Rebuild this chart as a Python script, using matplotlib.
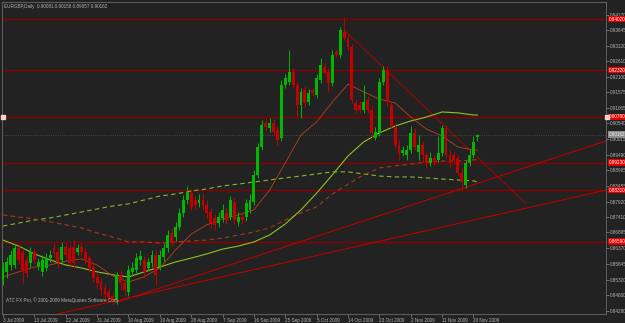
import matplotlib.pyplot as plt
from matplotlib.transforms import blended_transform_factory

# EURGBP daily candles, 3 Jul 2009 .. 23 Nov 2009 (MT4 chart, Sunday bars included)
opens = [0.8531, 0.8558, 0.8581, 0.8581, 0.8638, 0.8624, 0.8598, 0.8588, 0.8624, 0.8578,
         0.8558, 0.8571, 0.8604, 0.8638, 0.8624, 0.8598, 0.8641, 0.8638, 0.8641, 0.8624,
         0.8641, 0.8624, 0.8604, 0.8574, 0.8541, 0.8524, 0.8504, 0.8491, 0.8477, 0.8464,
         0.8548, 0.8521, 0.8491, 0.8558, 0.8564, 0.8598, 0.8598, 0.8571, 0.8588, 0.8614,
         0.8574, 0.8608, 0.8638, 0.8688, 0.8674, 0.8708, 0.8755, 0.8798, 0.8821, 0.8798,
         0.8788, 0.8798, 0.8781, 0.8758, 0.8738, 0.8721, 0.8738, 0.8755, 0.8741, 0.8791,
         0.8725, 0.8741, 0.8741, 0.8765, 0.8791, 0.8882, 0.8975, 0.9055, 0.9038, 0.9055,
         0.9032, 0.9005, 0.9182, 0.9192, 0.9226, 0.9182, 0.9115, 0.9165, 0.9125, 0.9165,
         0.9149, 0.9199, 0.9242, 0.9226, 0.9189, 0.9292, 0.9282, 0.9359, 0.9339, 0.9309,
         0.9122, 0.9115, 0.9099, 0.9132, 0.9099, 0.9005, 0.9022, 0.9192, 0.9232, 0.9115,
         0.9042, 0.8982, 0.8955, 0.8948, 0.8965, 0.9022, 0.8958, 0.8982, 0.8948, 0.8922,
         0.8938, 0.8932, 0.8955, 0.9038, 0.8948, 0.8948, 0.8938, 0.8888, 0.8848, 0.8922,
         0.8948, 0.90081]
highs = [0.8591, 0.8608, 0.8631, 0.8651, 0.8651, 0.8638, 0.8611, 0.8641, 0.8638, 0.8604,
         0.8614, 0.8621, 0.8631, 0.8654, 0.8638, 0.8658, 0.8654, 0.8651, 0.8664, 0.8651,
         0.8654, 0.8638, 0.8614, 0.8591, 0.8554, 0.8538, 0.8517, 0.8504, 0.8491, 0.8558,
         0.8564, 0.8534, 0.8581, 0.8591, 0.8621, 0.8631, 0.8611, 0.8604, 0.8631, 0.8631,
         0.8631, 0.8654, 0.8698, 0.8705, 0.8725, 0.8771, 0.8815, 0.8845, 0.8835, 0.8811,
         0.8818, 0.8821, 0.8798, 0.8771, 0.8751, 0.8758, 0.8785, 0.8771, 0.8811, 0.8805,
         0.8758, 0.8755, 0.8801, 0.8818, 0.8898, 0.8988, 0.9065, 0.9072, 0.9072, 0.9069,
         0.9045, 0.9199, 0.9219, 0.9299, 0.9239, 0.9192, 0.9172, 0.9179, 0.9169, 0.9175,
         0.9219, 0.9272, 0.9256, 0.9239, 0.9299, 0.9302, 0.9376, 0.9409, 0.9349, 0.9319,
         0.9135, 0.9129, 0.9182, 0.9145, 0.9112, 0.9042, 0.9206, 0.9246, 0.9246, 0.9125,
         0.9055, 0.8998, 0.8978, 0.8982, 0.9045, 0.9038, 0.9015, 0.8995, 0.8958, 0.8958,
         0.8948, 0.9012, 0.9049, 0.9049, 0.8965, 0.8958, 0.8948, 0.8905, 0.8932, 0.8965,
         0.9012, 0.90170]
lows = [0.8514, 0.8538, 0.8564, 0.8571, 0.8584, 0.8521, 0.8541, 0.8574, 0.8584, 0.8564,
        0.8544, 0.8561, 0.8591, 0.8608, 0.8571, 0.8584, 0.8601, 0.8574, 0.8571, 0.8614,
        0.8611, 0.8584, 0.8558, 0.8524, 0.8504, 0.8481, 0.8464, 0.8457, 0.8447, 0.8451,
        0.8497, 0.8477, 0.8477, 0.8544, 0.8554, 0.8581, 0.8538, 0.8561, 0.8574, 0.8514,
        0.8564, 0.8594, 0.8624, 0.8644, 0.8661, 0.8698, 0.8741, 0.8785, 0.8765, 0.8768,
        0.8775, 0.8765, 0.8738, 0.8705, 0.8698, 0.8708, 0.8725, 0.8718, 0.8731, 0.8718,
        0.8711, 0.8718, 0.8728, 0.8755, 0.8781, 0.8872, 0.8965, 0.9028, 0.9025, 0.9012,
        0.8982, 0.8995, 0.9172, 0.9182, 0.9172, 0.9075, 0.9072, 0.9109, 0.9115, 0.9145,
        0.9139, 0.9189, 0.9212, 0.9159, 0.9179, 0.9276, 0.9272, 0.9332, 0.9299, 0.9122,
        0.9089, 0.9089, 0.9089, 0.9089, 0.9005, 0.8998, 0.9012, 0.9182, 0.9112, 0.9038,
        0.8972, 0.8932, 0.8945, 0.8932, 0.8955, 0.8965, 0.8932, 0.8925, 0.8905, 0.8912,
        0.8915, 0.8925, 0.8945, 0.8938, 0.8908, 0.8918, 0.8878, 0.8831, 0.8838, 0.8912,
        0.8938, 0.89957]
closes = [0.8571, 0.8591, 0.8614, 0.8638, 0.8598, 0.8558, 0.8554, 0.8624, 0.8598, 0.8591,
          0.8598, 0.8604, 0.8614, 0.8621, 0.8591, 0.8641, 0.8614, 0.8588, 0.8588, 0.8638,
          0.8624, 0.8598, 0.8571, 0.8538, 0.8521, 0.8497, 0.8481, 0.8471, 0.8464, 0.8548,
          0.8521, 0.8497, 0.8564, 0.8571, 0.8604, 0.8611, 0.8558, 0.8591, 0.8614, 0.8548,
          0.8614, 0.8638, 0.8681, 0.8658, 0.8708, 0.8755, 0.8798, 0.8825, 0.8775, 0.8781,
          0.8798, 0.8781, 0.8755, 0.8721, 0.8715, 0.8741, 0.8765, 0.8731, 0.8798, 0.8731,
          0.8741, 0.8731, 0.8788, 0.8798, 0.8882, 0.8975, 0.9049, 0.9042, 0.9055, 0.9025,
          0.8998, 0.9182, 0.9206, 0.9226, 0.9182, 0.9115, 0.9159, 0.9122, 0.9155, 0.9155,
          0.9206, 0.9249, 0.9222, 0.9189, 0.9282, 0.9282, 0.9366, 0.9339, 0.9309, 0.9132,
          0.9099, 0.9099, 0.9125, 0.9099, 0.9022, 0.9025, 0.9192, 0.9232, 0.9125, 0.9049,
          0.8982, 0.8955, 0.8965, 0.8965, 0.9022, 0.8975, 0.8982, 0.8948, 0.8925, 0.8938,
          0.8925, 0.8955, 0.9038, 0.8948, 0.8922, 0.8932, 0.8888, 0.8858, 0.8922, 0.8948,
          0.8992, 0.90162]

# moving averages every 4 bars
ma_bars = [0, 4, 8, 12, 16, 20, 24, 28, 32, 36, 40, 44, 48, 52, 56, 60,
           64, 68, 72, 76, 80, 84, 88, 92, 96, 100, 104, 108, 112, 116, 120, 121]
ma_fast = [0.8541, 0.8558, 0.8574, 0.8581, 0.8594, 0.8601, 0.8581, 0.8544, 0.8524, 0.8541,
           0.8571, 0.8631, 0.8684, 0.8715, 0.8735, 0.8748, 0.8765, 0.8831, 0.8922, 0.9015,
           0.9059, 0.9125, 0.9185, 0.9159, 0.9135, 0.9122, 0.9075, 0.9035, 0.9012, 0.8975,
           0.8965, 0.8965]
ma_mid = [0.8664, 0.8644, 0.8618, 0.8598, 0.8581, 0.8571, 0.8558, 0.8548, 0.8541, 0.8558,
          0.8574, 0.8591, 0.8604, 0.8618, 0.8634, 0.8644, 0.8658, 0.8681, 0.8718, 0.8765,
          0.8821, 0.8882, 0.8945, 0.8992, 0.9022, 0.9045, 0.9062, 0.9075, 0.9092, 0.9089,
          0.9082, 0.9082]
ma_slow_green = [0.8711, 0.8721, 0.8731, 0.8738, 0.8748, 0.8758, 0.8768, 0.8778, 0.8785, 0.8798,
                 0.8811, 0.8818, 0.8828, 0.8835, 0.8845, 0.8851, 0.8858, 0.8865, 0.8872, 0.8878,
                 0.8885, 0.8892, 0.8892, 0.8885, 0.8878, 0.8875, 0.8875, 0.8872, 0.8868, 0.8865,
                 0.8862, 0.8858]
ma_slow_red = [0.8748, 0.8741, 0.8735, 0.8725, 0.8715, 0.8705, 0.8688, 0.8674, 0.8658, 0.8658,
               0.8654, 0.8658, 0.8661, 0.8664, 0.8671, 0.8681, 0.8691, 0.8705, 0.8731, 0.8755,
               0.8775, 0.8818, 0.8851, 0.8882, 0.8905, 0.8912, 0.8918, 0.8925, 0.8928, 0.8928,
               0.8932, 0.8932]

# drawn objects: trend lines (bar, price anchors) and horizontal levels
trend_down = ([87, 133.2], [0.9366, 0.8788])
trend_up1 = ([29.1, 153.8], [0.8457, 0.8995])
trend_up2 = ([13.8, 153.8], [0.8417, 0.8831])
levels = [0.9402, 0.9232, 0.9076, 0.8923, 0.8831, 0.8659]
bid = 0.90162

ytick_labels = ['0.94170', '0.93645', '0.93120', '0.92610', '0.92100', '0.91575', '0.91065',
                '0.90540', '0.90015', '0.89490', '0.88965', '0.88455', '0.87920', '0.87410',
                '0.86895', '0.86370', '0.85845', '0.85320', '0.84800', '0.84280']
date_bars = [0, 8, 16, 24, 32, 40, 48, 56, 64, 72, 80, 88, 96, 104, 112, 120]
date_labels = ['3 Jul 2009', '13 Jul 2009', '22 Jul 2009', '31 Jul 2009', '10 Aug 2009',
               '19 Aug 2009', '28 Aug 2009', '7 Sep 2009', '16 Sep 2009', '25 Sep 2009',
               '5 Oct 2009', '14 Oct 2009', '23 Oct 2009', '2 Nov 2009', '11 Nov 2009',
               '20 Nov 2009']

BG = '#222222'
TXT = '#b4b4b4'
UP = '#00b800'
DOWN = '#c40000'
FS = 3.3
plt.rcParams['font.family'] = ['Liberation Sans', 'DejaVu Sans']


def chart():
    fig = plt.figure(figsize=(6.25, 3.23), dpi=100, facecolor=BG)
    ax = fig.add_axes([2 / 625, 9 / 323, 604 / 625, 312 / 323])
    ax.set_facecolor(BG)

    for lv in levels:
        ax.axhline(lv, color='#8a0000', lw=1.0, zorder=1)
    ax.axhline(bid, color='#555555', lw=0.6, ls=':', zorder=1)

    ax.plot(trend_down[0], trend_down[1], color='#b00000', lw=0.65, zorder=2)
    ax.plot(trend_up1[0], trend_up1[1], color='#c00000', lw=0.75, zorder=2)
    ax.plot(trend_up2[0], trend_up2[1], color='#c00000', lw=0.75, zorder=2)

    ax.plot(ma_bars, ma_slow_green, color='#8db32a', lw=0.8, ls=(0, (4, 3)), zorder=2)
    ax.plot(ma_bars, ma_slow_red, color='#a23a1c', lw=0.8, ls=(0, (4, 3)), zorder=2)
    ax.plot(ma_bars, ma_mid, color='#8fc21f', lw=0.8, zorder=2)
    ax.plot(ma_bars, ma_fast, color='#b8431a', lw=0.6, zorder=2)

    for i in range(len(closes)):
        o, h, l, c = opens[i], highs[i], lows[i], closes[i]
        col = UP if c >= o else DOWN
        ax.vlines(i, l, h, color=col, lw=0.7, zorder=3)
        ax.bar(i, max(abs(c - o), 0.00006), bottom=min(o, c), width=0.74,
               color=col, linewidth=0, zorder=3)

    ax.set_xlim(-0.26, 153.8)
    ax.set_ylim(0.84172, 0.94593)

    ax.yaxis.tick_right()
    ax.set_yticks([float(t) for t in ytick_labels], ytick_labels)
    ax.set_xticks(date_bars, date_labels, ha='left')
    ax.tick_params(axis='both', colors='#8a8a8a', labelcolor=TXT, labelsize=FS,
                   length=2, width=0.5, pad=1)
    for sp in ax.spines.values():
        sp.set_color('#6a6a6a')
        sp.set_linewidth(0.6)

    tr = blended_transform_factory(ax.transAxes, ax.transData)
    for lv in levels:
        ax.text(1.004, lv, f'{lv:.5f}', transform=tr, fontsize=FS, color='white',
                va='center', ha='left', clip_on=False, zorder=5,
                bbox=dict(boxstyle='square,pad=0.15', fc='#e00000', ec='none'))
    ax.text(1.004, bid, f'{bid:.5f}', transform=tr, fontsize=FS, color='#eeeeee',
            va='center', ha='left', clip_on=False, zorder=5,
            bbox=dict(boxstyle='square,pad=0.15', fc='#8c8c8c', ec='none'))
    ax.plot([0.002, 1.002], [levels[2], levels[2]], transform=tr, ls='none',
            marker='s', ms=2.2, color='#ffd0d0', clip_on=False, zorder=6)

    ax.text(0.003, 0.992, 'EURGBP,Daily  0.90081 0.90158 0.89957 0.90162',
            transform=ax.transAxes, fontsize=FS, color=TXT, va='top', ha='left')
    ax.text(0.006, 0.035, 'ATC FX Pro, \u00a9 2001-2009 MetaQuotes Software Corp.',
            transform=ax.transAxes, fontsize=FS, color=TXT, va='bottom', ha='left')

    plt.savefig('out.png', dpi=100, facecolor=BG)


if __name__ == '__main__':
    chart()
